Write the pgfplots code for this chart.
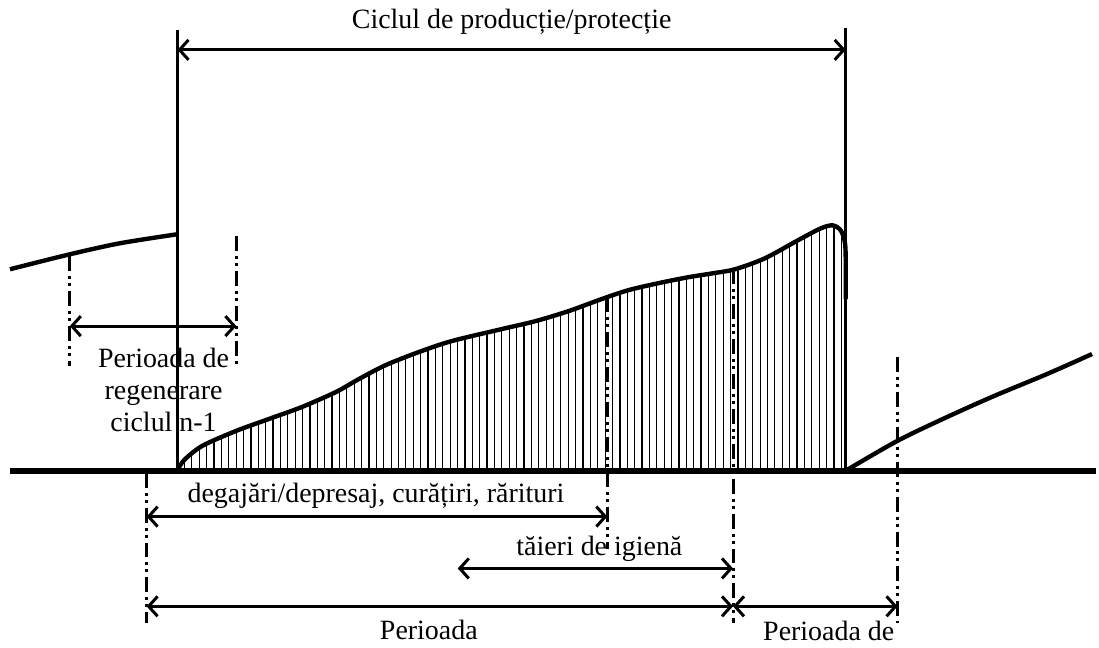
\documentclass[border=0pt]{standalone}
\usepackage{pgfplots}
\pgfplotsset{compat=1.18}
\usepackage{fontspec}
\setmainfont{Liberation Serif}
\usetikzlibrary{arrows.meta,patterns.meta}
\tikzset{
  dd/.style={line width=1.5pt, dash pattern=on 7.5pt off 2.5pt on 1.5pt off 2pt on 1.5pt off 2.5pt},
  arr/.style={line width=1.5pt, {Straight Barb[length=4.5pt,width=10pt]}-{Straight Barb[length=4.5pt,width=10pt]}},
  txt/.style={font=\fontsize{14pt}{16pt}\selectfont, align=center},
}
\begin{document}
\begin{tikzpicture}
\begin{axis}[
  scale only axis, width=549.5pt, height=322.5pt,
  xmin=0, xmax=1099, ymin=0, ymax=645, y dir=reverse,
  axis lines=none, clip=false,
]
% bounding box
\addplot[draw=none] coordinates {(0,0) (1099,645)};
% hatched area
\addplot[draw=none, pattern={Lines[angle=90,distance=3.7pt,line width=0.6pt]}] coordinates {
(178,472) (178,471) (185,461) (203,447) (237,432) (270,420) (303,408) (337,393) (360,380) (387,366) (420,353) (453,342) (503,330) (537,322) (570,312) (603,300) (630,291) (660,284) (690,278) (715,274) (737,270) (767,259) (800,241) (823,229) (835,226) (843,231) (847,242) (848,258) (848,472)};
% growth curve of current cycle
\addplot[line width=2.2pt, smooth] coordinates {
(178,471) (185,461) (203,447) (237,432) (270,420) (303,408) (337,393) (360,380) (387,366) (420,353) (453,342) (503,330) (537,322) (570,312) (603,300) (630,291) (660,284) (690,278) (715,274) (737,270) (767,259) (800,241) (823,229) (835,226) (843,231) (847,242) (848,258) (848,300)};
% previous cycle curve
\addplot[line width=2.2pt, smooth] coordinates {(10,270) (70,255) (120,244) (177,235)};
% next cycle curve
\addplot[line width=2.2pt, smooth] coordinates {(848,472) (900,442) (950,418) (997,397) (1050,375) (1095,355)};
% baseline
\addplot[line width=3pt] coordinates {(10,472) (1099,472)};
% solid verticals
\addplot[line width=1.4pt] coordinates {(178,30) (178,472)};
\addplot[line width=1.4pt] coordinates {(848,28) (848,472)};
% dash-dot verticals
\addplot[dd] coordinates {(70,257) (70,367)};
\addplot[dd] coordinates {(237,237) (237,367)};
\addplot[dd] coordinates {(147,474) (147,625)};
\addplot[dd] coordinates {(609,298) (609,550)};
\addplot[dd] coordinates {(735,270) (735,625)};
\addplot[dd] coordinates {(900,358) (900,625)};
% arrows
\addplot[arr] coordinates {(178,50) (848,50)};
\addplot[arr] coordinates {(70,327) (237,327)};
\addplot[arr] coordinates {(147,518) (609,518)};
\addplot[arr] coordinates {(459,570) (735,570)};
\addplot[arr] coordinates {(147,608) (735,608)};
\addplot[arr] coordinates {(735,608) (900,608)};
% texts
\node[txt] at (axis cs:513,22) {Ciclul de producție/protecție};
\node[txt] at (axis cs:164,391) {Perioada de\\regenerare\\ciclul n-1};
\node[txt] at (axis cs:377,497) {degajări/depresaj, curățiri, rărituri};
\node[txt] at (axis cs:601,550) {tăieri de igienă};
\node[txt] at (axis cs:430,632) {Perioada};
\node[txt] at (axis cs:831,633) {Perioada de};
\end{axis}
\end{tikzpicture}
\end{document}
